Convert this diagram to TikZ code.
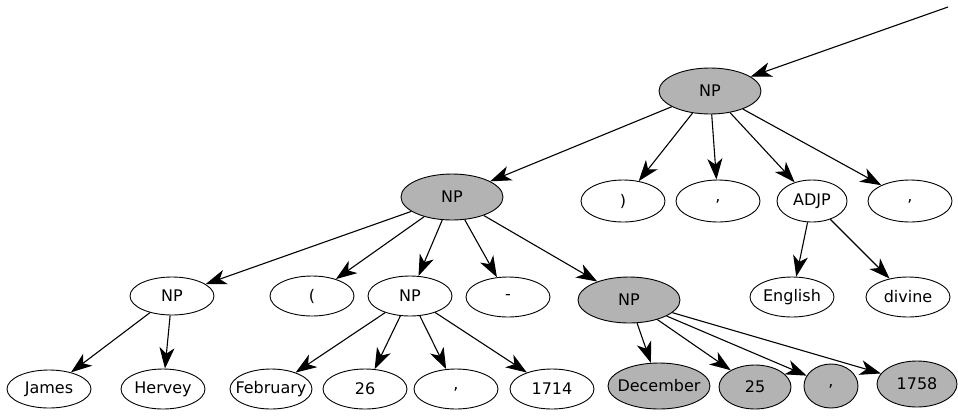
\documentclass[tikz,border=0pt]{standalone}
\usepackage{fontspec}
\setmainfont{DejaVu Sans}
\usetikzlibrary{shapes.geometric}
\usetikzlibrary{arrows.meta}
\definecolor{hlgray}{RGB}{179,179,179}

\tikzset{
  tok/.style = {ellipse, draw, line width=0.9pt, inner ysep=0pt, inner xsep=-12pt, minimum width=84pt, minimum height=40pt, font=\fontsize{16}{19}\selectfont},
  hl/.style = {tok, fill=hlgray},
  big/.style = {minimum width=102pt, minimum height=46pt},
  edge/.style = {-{Stealth[length=21pt, width=15pt, inset=6pt]}, line width=1.1pt}
}

\begin{document}
\begin{tikzpicture}[x=1pt, y=-1pt]
            \useasboundingbox (0,0) rectangle (958,416);
            \coordinate (in) at (948,7);
            \node[hl, big] (np0) at (710,91) {NP};
            \node[hl, big] (np1) at (452,197) {NP};
            \node[tok, minimum height=42pt] (rpar) at (623,201) {)};
            \node[tok, minimum height=42pt] (comA) at (718,201) {,};
            \node[tok, minimum width=70pt, minimum height=42pt] (adjp) at (812,201) {ADJP};
            \node[tok, minimum height=42pt] (comB) at (910,201) {,};
            \node[tok, minimum height=38pt] (npa) at (172,296) {NP};
            \node[tok] (lpar) at (312,296) {(};
            \node[tok] (npb) at (410,296) {NP};
            \node[tok] (dash) at (508,297) {-};
            \node[hl, big] (npc) at (629,300) {NP};
            \node[tok] (eng) at (792,297) {English};
            \node[tok] (div) at (908,297) {divine};
            \node[tok, minimum height=38pt] (james) at (49,389) {James};
            \node[tok] (hervey) at (163,389) {Hervey};
            \node[tok, minimum width=82pt] (feb) at (271,389) {February};
            \node[tok] (d26) at (365,389) {26};
            \node[tok] (comC) at (456,389) {,};
            \node[tok] (y1714) at (552,389) {1714};
            \node[hl, big] (dec) at (659,386) {December};
            \node[hl, minimum width=72pt, minimum height=44pt] (d25) at (755,387) {25};
            \node[hl, minimum width=54pt, minimum height=44pt] (comD) at (831,386) {,};
            \node[hl, minimum width=80pt, minimum height=46pt] (y1758) at (917,384) {1758};
            \draw[edge] (in) -- (np0);
            \foreach \t in {np1, rpar, comA, adjp, comB}
                \draw[edge] (np0) -- (\t);
            \foreach \t in {npa, lpar, npb, dash, npc}
                \draw[edge] (np1) -- (\t);
            \draw[edge] (npa) -- (james);
            \draw[edge] (npa) -- (hervey);
            \foreach \t in {feb, d26, comC, y1714}
                \draw[edge] (npb) -- (\t);
            \foreach \t in {dec, d25, comD, y1758}
                \draw[edge] (npc) -- (\t);
            \draw[edge] (adjp) -- (eng);
            \draw[edge] (adjp) -- (div);
        \end{tikzpicture}
\end{document}
